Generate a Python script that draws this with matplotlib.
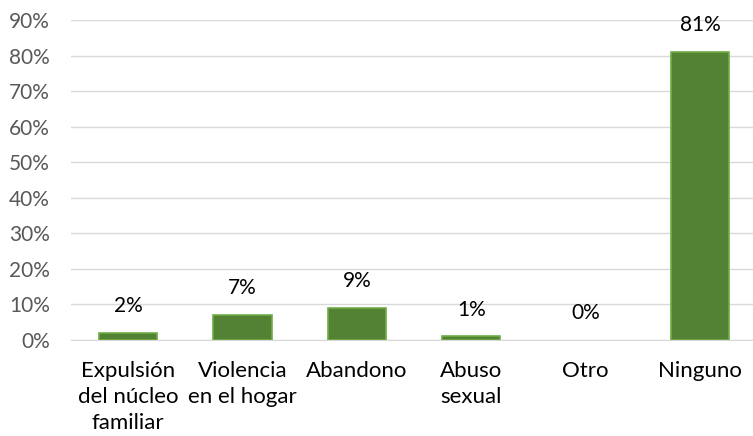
import matplotlib
matplotlib.use('Agg')
import matplotlib.pyplot as plt
from matplotlib.ticker import PercentFormatter

categorias = ['Expulsión\ndel núcleo\nfamiliar', 'Violencia\nen el hogar', 'Abandono',
              'Abuso\nsexual', 'Otro', 'Ninguno']
valores = [2, 7, 9, 1, 0, 81]
etiquetas = ['2%', '7%', '9%', '1%', '0%', '81%']

plt.rcParams['font.family'] = ['Lato', 'DejaVu Sans']

fig = plt.figure(figsize=(7.53, 4.36), dpi=100)
ax = fig.add_axes([70.8 / 753, 96 / 436, 686.4 / 753, 320 / 436])

x = range(len(categorias))
anchos = [1.2 if v > 0 else 0 for v in valores]
ax.bar(x, valores, width=0.51, color='#548235', edgecolor='#70AD47', linewidth=anchos, zorder=3)

for i, v in enumerate(valores):
    ax.annotate(etiquetas[i], (i, v), xytext=(0, 15), textcoords='offset points',
                ha='center', va='baseline', fontsize=15, color='#000000')

ax.set_xlim(-0.5, 5.5)
ax.set_ylim(0, 90)
ax.set_yticks(range(0, 91, 10))
ax.yaxis.set_major_formatter(PercentFormatter(decimals=0))
ax.set_xticks(list(x))
ax.set_xticklabels(categorias, fontsize=16, color='#000000', linespacing=1.38)
ax.tick_params(axis='y', labelsize=15, labelcolor='#595959', length=0, pad=15)
ax.tick_params(axis='x', length=0, pad=15)

ax.grid(axis='y', color='#D9D9D9', linewidth=1, zorder=0)
for s in ['top', 'right', 'left']:
    ax.spines[s].set_visible(False)
ax.spines['bottom'].set_color('#D9D9D9')

fig.savefig('out.png', dpi=100)
